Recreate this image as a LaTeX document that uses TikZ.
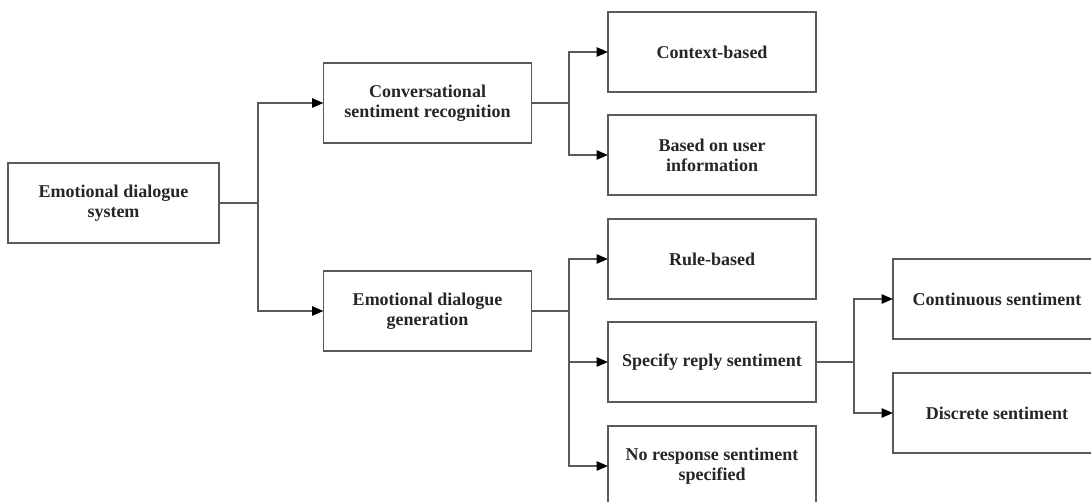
\documentclass[tikz,border=0pt]{standalone}
\usepackage{fontspec}
\setmainfont{Liberation Serif}
\usetikzlibrary{arrows.meta}
\definecolor{linegray}{HTML}{5A5A5A}
\definecolor{textgray}{HTML}{262626}
\tikzset{
  box/.style = {draw = linegray, line width = 1.1pt, fill = white, minimum width = 156pt,
    minimum height = 60pt, align = center, text = textgray, inner sep = 2pt,
    font = \bfseries\fontsize{13.5pt}{15pt}\selectfont},
  link/.style = {draw = linegray, line width = 1.1pt},
  arr/.style = {link, -{Triangle[length = 8.5pt, width = 7pt, color = black]}, shorten >= -0.5pt}
}
\begin{document}
\begin{tikzpicture}[x = 0.75pt, y = -0.75pt]
\useasboundingbox (0,0) rectangle (1091,501);
\clip (0,0) rectangle (1091,501);
\fill [white] (0,0) rectangle (1091,501);
\node [box, minimum width = 158pt] (sys) at (113.5,203) {Emotional dialogue\\system};
\node [box] (rec) at (427.5,103) {Conversational\\sentiment recognition};
\node [box] (gen) at (427.5,311) {Emotional dialogue\\generation};
\node [box] (ctx) at (712,52) {Context-based};
\node [box] (usr) at (712,155) {Based on user\\information};
\node [box] (rule) at (712,259) {Rule-based};
\node [box] (spec) at (712,362) {Specify reply sentiment};
\node [box] (nores) at (712,466) {No response sentiment\\specified};
\node [box] (cont) at (997,299) {Continuous sentiment};
\node [box] (disc) at (997,413) {Discrete sentiment};
\coordinate (b1) at (258,203);
\coordinate (b2) at (569,103);
\coordinate (b3) at (569,311);
\coordinate (b4) at (854,362);
\draw [link] (sys) -- (b1);
\draw [arr] (b1) |- (rec);
\draw [arr] (b1) |- (gen);
\draw [link] (rec) -- (b2);
\draw [arr] (b2) |- (ctx);
\draw [arr] (b2) |- (usr);
\draw [link] (gen) -- (b3);
\draw [arr] (b3) |- (rule);
\draw [arr] (b3) |- (spec);
\draw [arr] (b3) |- (nores);
\draw [link] (spec) -- (b4);
\draw [arr] (b4) |- (cont);
\draw [arr] (b4) |- (disc);
\end{tikzpicture}
\end{document}
